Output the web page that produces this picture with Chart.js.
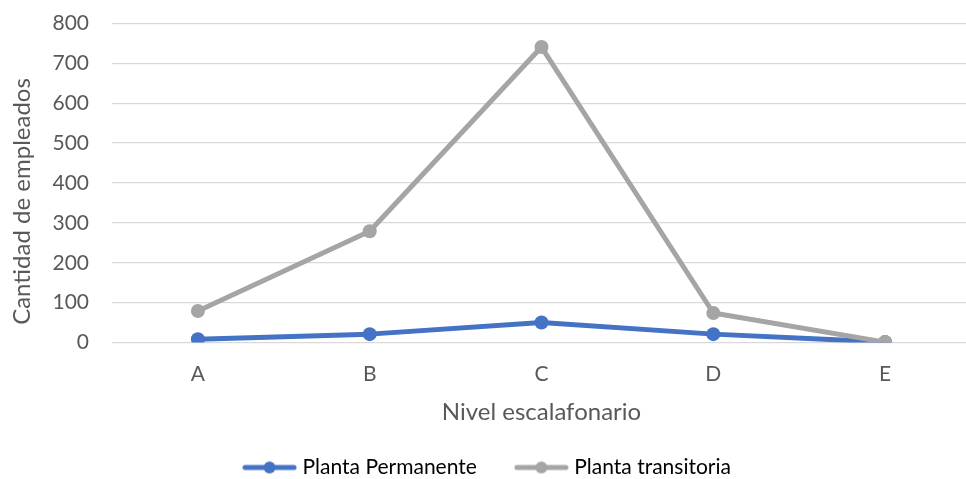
<!DOCTYPE html>
<html lang="es">
<head>
<meta charset="utf-8">
<title>Cantidad de empleados por nivel escalafonario</title>
<script src="https://cdn.jsdelivr.net/npm/chart.js@4/dist/chart.umd.min.js"></script>
<style>
  html, body { margin: 0; padding: 0; background: #ffffff; overflow: hidden; }
  #wrap { position: relative; width: 978px; height: 488px; }
</style>
</head>
<body>
<div id="wrap"><canvas id="chart"></canvas></div>
<script>
// Employees per grade level
const categories = ['A', 'B', 'C', 'D', 'E'];
const plantaPermanente = [8, 21, 50, 21, 1];
const plantaTransitoria = [79, 279, 741, 74, 1];
const seriesNames = ['Planta Permanente', 'Planta transitoria'];
const yTicks = [0, 100, 200, 300, 400, 500, 600, 700, 800];
const xTitle = 'Nivel escalafonario';
const yTitle = 'Cantidad de empleados';

const BLUE = '#4472C4';
const GREY = '#A5A5A5';
const TEXT = '#595959';
const FONT = 'Lato, "Open Sans", sans-serif';

// Legend marker: short line with a dot in the middle
function lineMarker(color) {
  const c = document.createElement('canvas');
  c.width = 55; c.height = 16;
  const g = c.getContext('2d');
  g.strokeStyle = color;
  g.lineWidth = 5;
  g.lineCap = 'round';
  g.beginPath();
  g.moveTo(3, 8);
  g.lineTo(52, 8);
  g.stroke();
  g.fillStyle = color;
  g.beginPath();
  g.arc(27.5, 8, 6, 0, Math.PI * 2);
  g.fill();
  return c;
}
const markers = [lineMarker(BLUE), lineMarker(GREY)];

// Vertical axis title, placed a little below the middle of the plot
const yTitlePlugin = {
  id: 'yTitle',
  afterDraw(chart) {
    const { ctx, chartArea } = chart;
    ctx.save();
    ctx.translate(22, chartArea.bottom - 141);
    ctx.rotate(-Math.PI / 2);
    ctx.fillStyle = TEXT;
    ctx.font = '24px ' + FONT;
    ctx.textAlign = 'center';
    ctx.textBaseline = 'middle';
    ctx.fillText(yTitle, 0, 0);
    ctx.restore();
  }
};

new Chart(document.getElementById('chart'), {
  type: 'line',
  data: {
    labels: categories,
    datasets: [
      {
        label: seriesNames[0],
        data: plantaPermanente,
        borderColor: BLUE,
        backgroundColor: BLUE,
        pointBackgroundColor: BLUE,
        pointBorderColor: BLUE,
        borderWidth: 5,
        pointRadius: 7,
        pointBorderWidth: 0,
        borderCapStyle: 'round',
        borderJoinStyle: 'round',
        tension: 0,
        order: 1
      },
      {
        label: seriesNames[1],
        data: plantaTransitoria,
        borderColor: GREY,
        backgroundColor: GREY,
        pointBackgroundColor: GREY,
        pointBorderColor: GREY,
        borderWidth: 5,
        pointRadius: 7,
        pointBorderWidth: 0,
        borderCapStyle: 'round',
        borderJoinStyle: 'round',
        tension: 0,
        order: 0
      }
    ]
  },
  plugins: [yTitlePlugin],
  options: {
    responsive: true,
    maintainAspectRatio: false,
    animation: false,
    devicePixelRatio: 1,
    layout: { padding: { top: 23.5, left: 0, right: 0, bottom: 0 } },
    plugins: {
      tooltip: { enabled: false },
      legend: {
        position: 'bottom',
        labels: {
          usePointStyle: true,
          pointStyleWidth: 45,
          padding: 42,
          color: TEXT,
          font: { family: FONT, size: 21 },
          generateLabels(chart) {
            return chart.data.datasets.map((ds, i) => ({
              text: ds.label,
              pointStyle: markers[i],
              fillStyle: ds.borderColor,
              strokeStyle: ds.borderColor,
              lineWidth: 0,
              hidden: false,
              datasetIndex: i
            }));
          }
        }
      }
    },
    scales: {
      x: {
        offset: true,
        grid: { display: false, drawTicks: false },
        border: { display: false },
        ticks: { color: TEXT, font: { family: FONT, size: 21 }, padding: 19 },
        title: {
          display: true,
          text: xTitle,
          color: TEXT,
          font: { family: FONT, size: 24 },
          padding: { top: 0, bottom: -11.5 }
        },
        afterFit(scale) { scale.height = 72.5; }
      },
      y: {
        min: 0,
        max: 800,
        afterBuildTicks(scale) { scale.ticks = yTicks.map(v => ({ value: v })); },
        grid: {
          color: '#D9D9D9',
          lineWidth: 1.3,
          drawTicks: true,
          tickLength: 23,
          tickColor: 'rgba(0,0,0,0)'
        },
        border: { display: false },
        ticks: { color: TEXT, font: { family: FONT, size: 21 }, padding: 0 },
        title: { display: false },
        afterFit(scale) { scale.width = 112; }
      }
    }
  }
});
</script>
</body>
</html>
